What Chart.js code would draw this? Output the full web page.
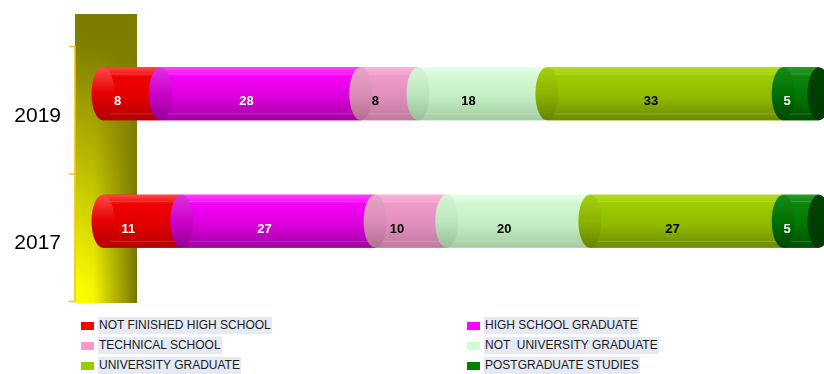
<!DOCTYPE html>
<html>
<head>
<meta charset="utf-8">
<title>Escolaridad</title>
<script src="https://cdn.jsdelivr.net/npm/chart.js@4.4.0/dist/chart.umd.min.js"></script>
<style>
    html, body { margin: 0; padding: 0; background: #fff; }
    #contenedor { position: relative; width: 824px; height: 374px; }
    #grafico_escolaridad { position: absolute; left: 0; top: 0; }
    #leyenda { position: absolute; left: 0; top: 0; width: 824px; height: 374px; pointer-events: none;
        font-family: "Liberation Sans", Arial, sans-serif; font-size: 12px; color: #1a1a1a; }
    .item { position: absolute; height: 17px; line-height: 17px; }
    .item .caja { position: absolute; left: 0; top: 5px; width: 13px; height: 8px; }
    .item .texto { position: absolute; left: 17px; top: 0; white-space: pre; background: #e6eaf6; padding: 0 1px; }
</style>
</head>
<body>
<div id="contenedor">
    <canvas id="grafico_escolaridad" width="824" height="374"></canvas>
    <div id="leyenda"></div>
</div>
<script>
// años (eje vertical) y niveles de estudio
const labels_anos = ['2019', '2017'];

const labels_niveles = [
    'NOT FINISHED HIGH SCHOOL',
    'HIGH SCHOOL GRADUATE',
    'TECHNICAL SCHOOL',
    'NOT  UNIVERSITY GRADUATE',
    'UNIVERSITY GRADUATE',
    'POSTGRADUATE STUDIES'
];

// porcentajes por nivel, en el mismo orden que labels_anos
const datos_no_termino = [8, 11];
const datos_bachiller = [28, 27];
const datos_tecnico = [8, 10];
const datos_no_universitario = [18, 20];
const datos_universitario = [33, 27];
const datos_posgrado = [5, 5];

const series = [
    datos_no_termino,
    datos_bachiller,
    datos_tecnico,
    datos_no_universitario,
    datos_universitario,
    datos_posgrado
];

// colores: base (leyenda), sombreado del cilindro y color del número
const colores_base = ['#ff0000', '#ff00ff', '#ff99cc', '#ccffcc', '#99cc00', '#008000'];
const colores_cilindro = [
    ['#ff4a4a', '#f00000', '#e40000', '#b00000'],
    ['#ff40ff', '#f500f5', '#dc00dc', '#a000a0'],
    ['#f8b4d8', '#f09ccb', '#e28ebd', '#bf7a9f'],
    ['#e4ffe4', '#d2f8d2', '#c4eec4', '#a4cca4'],
    ['#b4de20', '#9ccb00', '#90bc00', '#6e8a00'],
    ['#2a9a2a', '#0a850a', '#007800', '#004d00']
];
const colores_tapa = [
    ['#ff3030', '#e80000', '#b40000'],
    ['#e030e0', '#cc00cc', '#940094'],
    ['#e8a4c8', '#dc8cb8', '#b0708f'],
    ['#d6f4d6', '#bde6bd', '#98c098'],
    ['#a4cc10', '#8cb400', '#688200'],
    ['#168a16', '#007000', '#004800']
];
const color_fondo_cilindro = ['#004400', '#003a00'];
const colores_numero = ['#ffffff', '#ffffff', '#000000', '#000000', '#000000', '#ffffff'];

// pared amarilla detrás del eje y sus marcas
const plugin_pared = {
    id: 'pared',
    beforeDatasetsDraw(chart) {
        const ctx = chart.ctx;
        const area = chart.chartArea;
        const xa = area.left - 28, xb = area.left + 34;
        const ya = area.top - 16, yb = area.bottom + 18;
        ctx.save();
        let g = ctx.createLinearGradient(xa, 0, xb, 0);
        g.addColorStop(0, '#ffff00');
        g.addColorStop(0.3, '#f6f600');
        g.addColorStop(0.65, '#b4b400');
        g.addColorStop(1, '#767600');
        ctx.fillStyle = g;
        ctx.fillRect(xa, ya, xb - xa, yb - ya);
        let v = ctx.createLinearGradient(0, ya, 0, yb);
        v.addColorStop(0, 'rgba(124,124,0,1)');
        v.addColorStop(0.1, 'rgba(126,126,0,1)');
        v.addColorStop(0.95, 'rgba(128,128,0,0)');
        ctx.fillStyle = v;
        ctx.fillRect(xa, ya, xb - xa, yb - ya);

        // línea del eje y marcas entre categorías
        const desfase = 16.5;
        const y0 = area.top + desfase, y2 = area.bottom + desfase, y1 = (y0 + y2) / 2;
        ctx.strokeStyle = '#f5c400';
        ctx.lineWidth = 1.5;
        ctx.beginPath();
        ctx.moveTo(xa, y0); ctx.lineTo(xa, y2);
        [y0, y1, y2].forEach(function (y) {
            ctx.moveTo(xa - 6, y); ctx.lineTo(xa, y);
        });
        ctx.stroke();
        ctx.restore();
    }
};

// convierte cada barra en un tramo de cilindro y escribe su valor
const plugin_cilindros = {
    id: 'cilindros',
    afterDatasetsDraw(chart) {
        const ctx = chart.ctx;
        const rx = 11.5;
        ctx.save();
        for (let i = 0; i < chart.data.datasets.length; i++) {
            const meta = chart.getDatasetMeta(i);
            meta.data.forEach(function (barra) {
                const x0 = Math.min(barra.base, barra.x), x1 = Math.max(barra.base, barra.x);
                const h = barra.height, yt = barra.y - h / 2;
                const c = colores_cilindro[i];
                let g = ctx.createLinearGradient(0, yt, 0, yt + h);
                g.addColorStop(0, c[0]);
                g.addColorStop(0.18, c[1]);
                g.addColorStop(0.55, c[2]);
                g.addColorStop(1, c[3]);
                ctx.fillStyle = g;
                ctx.fillRect(x0, yt, x1 - x0, h);
                // vetas claras a lo largo del cilindro
                ctx.fillStyle = 'rgba(255,255,255,0.18)';
                ctx.fillRect(x0, yt + h * 0.12, x1 - x0, 1);
                ctx.fillRect(x0, yt + h * 0.87, x1 - x0, 1);
            });
        }
        // tapas elípticas: cada tramo empieza con una elipse sobre el anterior
        for (let i = 0; i < chart.data.datasets.length; i++) {
            const meta = chart.getDatasetMeta(i);
            meta.data.forEach(function (barra) {
                const x0 = Math.min(barra.base, barra.x);
                const h = barra.height, yt = barra.y - h / 2;
                const c = i === 0 ? [colores_cilindro[0][0], colores_cilindro[0][2], colores_cilindro[0][3]] : colores_tapa[i];
                let g = ctx.createLinearGradient(0, yt, 0, yt + h);
                g.addColorStop(0, c[0]);
                g.addColorStop(0.5, c[1]);
                g.addColorStop(1, c[2]);
                ctx.fillStyle = g;
                ctx.beginPath();
                ctx.ellipse(x0, barra.y, rx, h / 2, 0, 0, Math.PI * 2);
                ctx.fill();
            });
        }
        // fondo del último tramo
        const ultimo = chart.getDatasetMeta(chart.data.datasets.length - 1);
        ultimo.data.forEach(function (barra) {
            const x1 = Math.max(barra.base, barra.x);
            const h = barra.height, yt = barra.y - h / 2;
            let g = ctx.createLinearGradient(0, yt, 0, yt + h);
            g.addColorStop(0, color_fondo_cilindro[0]);
            g.addColorStop(1, color_fondo_cilindro[1]);
            ctx.fillStyle = g;
            ctx.beginPath();
            ctx.ellipse(x1, barra.y, rx, h / 2, 0, 0, Math.PI * 2);
            ctx.fill();
        });
        // números
        ctx.font = 'bold 13px "Liberation Sans", Arial, sans-serif';
        ctx.textAlign = 'center';
        ctx.textBaseline = 'middle';
        for (let i = 0; i < chart.data.datasets.length; i++) {
            const meta = chart.getDatasetMeta(i);
            const valores = chart.data.datasets[i].data;
            meta.data.forEach(function (barra, j) {
                ctx.fillStyle = colores_numero[i];
                ctx.fillText(String(valores[j]), (barra.base + barra.x) / 2 - 14, barra.y + 8);
            });
        }
        ctx.restore();
    }
};

const data_escolaridad = {
    labels: labels_anos,
    datasets: series.map(function (valores, i) {
        return {
            label: labels_niveles[i],
            data: valores,
            backgroundColor: colores_base[i],
            borderWidth: 0,
            categoryPercentage: 1,
            barPercentage: 0.416
        };
    })
};

const config_escolaridad = {
    type: 'bar',
    data: data_escolaridad,
    options: {
        indexAxis: 'y',
        responsive: false,
        animation: false,
        layout: { padding: { left: 0, right: 5, top: 30, bottom: 89 } },
        plugins: {
            legend: { display: false },
            tooltip: { enabled: false }
        },
        scales: {
            x: {
                stacked: true,
                min: 0,
                max: 100,
                display: false
            },
            y: {
                stacked: true,
                border: { display: false },
                grid: { display: false, drawTicks: false },
                afterFit: function (scale) {
                    scale.width = 103;
                    scale.paddingTop = 0;
                    scale.paddingBottom = 0;
                },
                ticks: {
                    color: '#000',
                    padding: 42,
                    labelOffset: 22,
                    font: { family: '"Liberation Sans", Arial, sans-serif', size: 21 }
                }
            }
        }
    },
    plugins: [plugin_pared, plugin_cilindros]
};

const grafico_escolaridad = new Chart(
    document.getElementById('grafico_escolaridad'),
    config_escolaridad
);

// leyenda en dos columnas bajo el gráfico
function crearLeyenda(chart) {
    const caja = document.getElementById('leyenda');
    const columnas = [81, 467];
    chart.data.datasets.forEach(function (ds, i) {
        const item = document.createElement('div');
        item.className = 'item';
        item.style.left = columnas[i % 2] + 'px';
        item.style.top = (317 + Math.floor(i / 2) * 20) + 'px';
        const cuadro = document.createElement('span');
        cuadro.className = 'caja';
        cuadro.style.background = ds.backgroundColor;
        const texto = document.createElement('span');
        texto.className = 'texto';
        texto.textContent = ds.label;
        item.appendChild(cuadro);
        item.appendChild(texto);
        caja.appendChild(item);
    });
}
crearLeyenda(grafico_escolaridad);
</script>
</body>
</html>
